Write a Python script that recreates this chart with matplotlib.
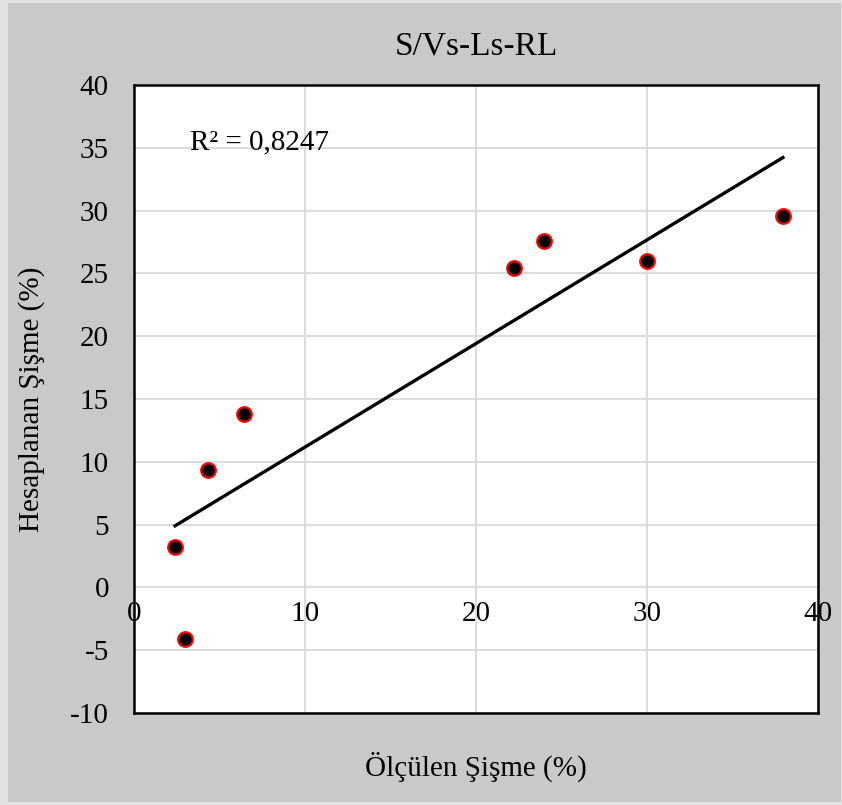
import matplotlib.pyplot as plt
from matplotlib.patches import Rectangle
import numpy as np

plt.rcParams['font.family'] = ['Liberation Serif', 'DejaVu Serif']
plt.rcParams['axes.unicode_minus'] = False

# measured vs calculated swelling (%)
olculen = [2.4, 2.98, 4.33, 6.43, 22.2, 24.0, 30.0, 37.95]
hesaplanan = [3.2, -4.1, 9.35, 13.8, 25.4, 27.6, 26.0, 29.6]
r2_text = "R² = 0,8247"

x_ticks = [0, 10, 20, 30, 40]
y_ticks = [-10, -5, 0, 5, 10, 15, 20, 25, 30, 35, 40]

fig = plt.figure(figsize=(8.42, 8.05), dpi=100, facecolor='#e2e2e2')
# gray chart panel behind the axes
fig.add_artist(Rectangle((8 / 842, 3 / 805), 833 / 842, 799 / 805,
                         transform=fig.transFigure, facecolor='#c9c9c9',
                         edgecolor='none', zorder=-5))

ax = fig.add_axes([134 / 842, 92 / 805, 684 / 842, 628 / 805])
ax.set_facecolor('white')
ax.set_xlim(0, 40)
ax.set_ylim(-10, 40)
ax.set_xticks(x_ticks)
ax.set_yticks(y_ticks)
ax.grid(True, color='#d9d9d9', linewidth=1.3)
ax.set_axisbelow(True)
for s in ax.spines.values():
    s.set_linewidth(1.8)
    s.set_color('black')

ax.tick_params(axis='x', length=0, labelbottom=False)
ax.tick_params(axis='y', length=0, labelsize=21, pad=18)

# x labels sit on the y=0 line
sec = ax.secondary_xaxis(10 / 50)
sec.set_xticks(x_ticks)
sec.tick_params(length=0, labelsize=21, pad=10)
sec.spines['bottom'].set_visible(False)

x = np.array(olculen)
y = np.array(hesaplanan)
m, b = np.polyfit(x, y, 1)
xs = np.array([x.min(), x.max()])
ax.plot(xs, m * xs + b, color='black', linewidth=2.4, zorder=3)

ax.scatter(x, y, s=110, color='black', edgecolors='red', linewidths=1.6, zorder=4)

ax.text(3.3, 35.4, r2_text, fontsize=21, va='center', ha='left')

ax.set_title("S/Vs-Ls-RL", fontsize=24, pad=22)
ax.set_xlabel("Ölçülen Şişme (%)", fontsize=21, labelpad=28)
ax.set_ylabel("Hesaplanan Şişme (%)", fontsize=21, labelpad=18)

fig.savefig('out.png', dpi=100, facecolor=fig.get_facecolor())
